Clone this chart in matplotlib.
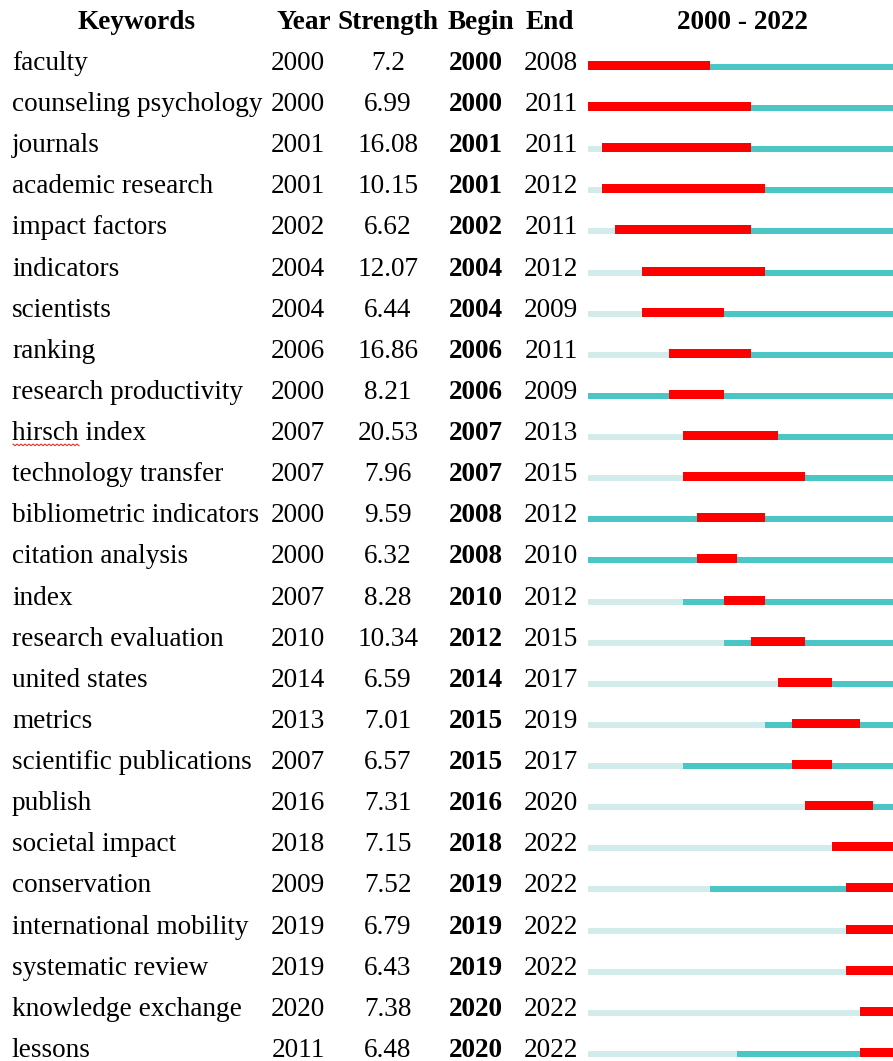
import numpy as np
import matplotlib.pyplot as plt

# burst table values
keywords = ["faculty", "counseling psychology", "journals", "academic research",
            "impact factors", "indicators", "scientists", "ranking",
            "research productivity", "hirsch index", "technology transfer",
            "bibliometric indicators", "citation analysis", "index",
            "research evaluation", "united states", "metrics",
            "scientific publications", "publish", "societal impact",
            "conservation", "international mobility", "systematic review",
            "knowledge exchange", "lessons"]
year = [2000, 2000, 2001, 2001, 2002, 2004, 2004, 2006, 2000, 2007, 2007, 2000,
        2000, 2007, 2010, 2014, 2013, 2007, 2016, 2018, 2009, 2019, 2019, 2020, 2011]
strength = ["7.2", "6.99", "16.08", "10.15", "6.62", "12.07", "6.44", "16.86",
            "8.21", "20.53", "7.96", "9.59", "6.32", "8.28", "10.34", "6.59",
            "7.01", "6.57", "7.31", "7.15", "7.52", "6.79", "6.43", "7.38", "6.48"]
begin = [2000, 2000, 2001, 2001, 2002, 2004, 2004, 2006, 2006, 2007, 2007, 2008,
         2008, 2010, 2012, 2014, 2015, 2015, 2016, 2018, 2019, 2019, 2019, 2020, 2020]
end = [2008, 2011, 2011, 2012, 2011, 2012, 2009, 2011, 2009, 2013, 2015, 2012,
       2010, 2012, 2015, 2017, 2019, 2017, 2020, 2022, 2022, 2022, 2022, 2022, 2022]
first_year, last_year = 2000, 2022

W, H = 893, 1061
plt.rcParams['font.family'] = ['Liberation Serif', 'DejaVu Serif']
fs = 19.6

fig = plt.figure(figsize=(W / 100, H / 100), dpi=100)
ax = fig.add_axes([0, 0, 1, 1])
ax.set_xlim(0, W)
ax.set_ylim(H, 0)
ax.axis('off')

pitch = 41.12
base0 = 70
rows = base0 + pitch * np.arange(len(keywords))

# header
hy = 29
ax.text(137, hy, "Keywords", ha='center', va='baseline', fontsize=fs, fontweight='bold')
ax.text(304, hy, "Year", ha='center', va='baseline', fontsize=fs, fontweight='bold')
ax.text(388, hy, "Strength", ha='center', va='baseline', fontsize=fs, fontweight='bold')
ax.text(481, hy, "Begin", ha='center', va='baseline', fontsize=fs, fontweight='bold')
ax.text(550, hy, "End", ha='center', va='baseline', fontsize=fs, fontweight='bold')
ax.text(742, hy, "%d - %d" % (first_year, last_year), ha='center', va='baseline',
        fontsize=fs, fontweight='bold')

for i, y in enumerate(rows):
    ax.text(12, y, keywords[i], ha='left', va='baseline', fontsize=fs)
    ax.text(298, y, str(year[i]), ha='center', va='baseline', fontsize=fs)
    ax.text(388, y, strength[i], ha='center', va='baseline', fontsize=fs)
    ax.text(476, y, str(begin[i]), ha='center', va='baseline', fontsize=fs, fontweight='bold')
    ax.text(551, y, str(end[i]), ha='center', va='baseline', fontsize=fs)

# spell-check squiggle under "hirsch"
iy = rows[keywords.index("hirsch index")] + 4
zx = np.arange(13, 80, 2.0)
zy = iy + np.where(np.arange(len(zx)) % 2 == 0, 0, 1.6)
ax.plot(zx, zy, color='#e03030', lw=0.8)

# timeline bars
x0, x1 = 588, W
yw = 13.58
bx = fig.add_axes([x0 / W, 0, (x1 - x0) / W, 1])
bx.set_xlim(first_year, first_year + (x1 - x0) / yw)
bx.set_ylim(H, 0)
bx.axis('off')

light = '#d2ecec'
teal = '#4ac6c6'
red = '#ff0000'
thin, thick = 6, 9
for i, y in enumerate(rows):
    bx.barh(y - thin / 2, year[i] - first_year, left=first_year, height=thin,
            color=light, linewidth=0)
    bx.barh(y - thin / 2, last_year + 1 - year[i], left=year[i], height=thin,
            color=teal, linewidth=0)
    bx.barh(y - thick / 2, end[i] + 1 - begin[i], left=begin[i], height=thick,
            color=red, linewidth=0)

fig.savefig("out.png", dpi=100)
